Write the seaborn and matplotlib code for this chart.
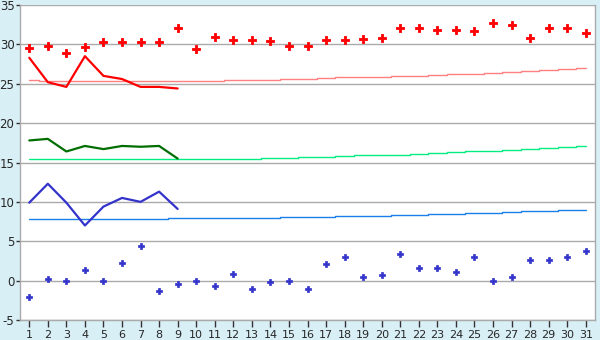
import numpy as np
import pandas as pd
import matplotlib
matplotlib.use("Agg")
import matplotlib.pyplot as plt
import seaborn as sns

days = list(range(1, 32))

# record max (red diamonds) and record min (blue diamonds)
rec_max = [29.5, 29.8, 28.9, 29.7, 30.3, 30.3, 30.3, 30.3, 32.1, 29.4,
           30.9, 30.5, 30.5, 30.4, 29.8, 29.8, 30.5, 30.5, 30.7, 30.8,
           32.1, 32.1, 31.8, 31.8, 31.7, 32.7, 32.4, 30.8, 32.1, 32.1, 31.4]
rec_min = [-2.1, 0.2, 0.0, 1.3, 0.0, 2.2, 4.4, -1.35, -0.45, 0.0,
           -0.7, 0.8, -1.0, -0.2, 0.0, -1.1, 2.1, 3.0, 0.4, 0.7,
           3.35, 1.6, 1.6, 1.1, 3.0, 0.0, 0.4, 2.6, 2.6, 3.0, 3.7]

# observed values (days 1-9)
obs_days = list(range(1, 10))
obs_max = [28.3, 25.2, 24.6, 28.5, 26.0, 25.6, 24.6, 24.6, 24.4]
obs_mean = [17.8, 18.0, 16.4, 17.1, 16.7, 17.1, 17.0, 17.1, 15.5]
obs_min = [9.9, 12.3, 9.9, 7.0, 9.4, 10.5, 10.0, 11.3, 9.1]

# normals
norm_max = [25.5, 25.4, 25.4, 25.4, 25.4, 25.4, 25.4, 25.4, 25.4, 25.4,
            25.4, 25.5, 25.5, 25.5, 25.6, 25.6, 25.7, 25.8, 25.8, 25.9,
            26.0, 26.0, 26.1, 26.2, 26.3, 26.4, 26.5, 26.6, 26.7, 26.9, 27.0]
norm_mean = [15.5, 15.4, 15.4, 15.4, 15.4, 15.4, 15.4, 15.4, 15.4, 15.4,
             15.5, 15.5, 15.5, 15.6, 15.6, 15.7, 15.7, 15.8, 15.9, 16.0,
             16.0, 16.1, 16.2, 16.3, 16.4, 16.5, 16.6, 16.7, 16.8, 17.0, 17.1]
norm_min = [7.8, 7.8, 7.8, 7.8, 7.8, 7.8, 7.8, 7.85, 7.9, 7.9,
            7.9, 7.95, 8.0, 8.0, 8.05, 8.1, 8.1, 8.15, 8.2, 8.25,
            8.3, 8.35, 8.4, 8.5, 8.55, 8.6, 8.7, 8.8, 8.85, 8.95, 9.0]

y_ticks = [-5, 0, 5, 10, 15, 20, 25, 30, 35]

df = pd.DataFrame({"day": days, "rec_max": rec_max, "rec_min": rec_min,
                   "norm_max": norm_max, "norm_mean": norm_mean, "norm_min": norm_min})
dfo = pd.DataFrame({"day": obs_days, "obs_max": obs_max, "obs_mean": obs_mean, "obs_min": obs_min})

sns.set_theme(style="white")
plt.rcParams["font.family"] = ["DejaVu Sans"]

bg = "#d9eff6"
fig = plt.figure(figsize=(6, 3.4), dpi=100, facecolor=bg)
ax = fig.add_axes([20/600, 20/340, 575/600, 315/340])
ax.set_facecolor("white")

for y in y_ticks:
    ax.axhline(y, color="#aaaaaa", lw=1.0, zorder=0)

sns.lineplot(data=df, x="day", y="norm_max", ax=ax, color="#ff8080", lw=1.0, drawstyle="steps-mid")
sns.lineplot(data=df, x="day", y="norm_mean", ax=ax, color="#00ee80", lw=1.0, drawstyle="steps-mid")
sns.lineplot(data=df, x="day", y="norm_min", ax=ax, color="#1a7fe8", lw=1.0, drawstyle="steps-mid")

sns.lineplot(data=dfo, x="day", y="obs_max", ax=ax, color="#ff0000", lw=1.6)
sns.lineplot(data=dfo, x="day", y="obs_mean", ax=ax, color="#006e00", lw=1.6)
sns.lineplot(data=dfo, x="day", y="obs_min", ax=ax, color="#3333cc", lw=1.6)

sns.scatterplot(data=df, x="day", y="rec_max", ax=ax, color="#ff0000", marker="P", s=30,
                linewidth=0.6, edgecolor="#ff0000")
sns.scatterplot(data=df, x="day", y="rec_min", ax=ax, color="#3333cc", marker="P", s=24,
                linewidth=0.5, edgecolor="#3333cc")

ax.set_xlim(0.5, 31.5)
ax.set_ylim(-5, 35)
ax.set_xticks(days)
ax.set_xticklabels([str(d) for d in days], fontsize=8)
ax.set_yticks(y_ticks)
ax.set_yticklabels([str(v) for v in y_ticks], fontsize=8.5)
ax.set_xlabel("")
ax.set_ylabel("")
ax.tick_params(axis="x", direction="out", length=5, width=1, color="#333333", pad=2, bottom=True)
ax.tick_params(axis="y", direction="out", length=3, width=1, color="#333333", pad=1, left=True)

for side in ["left", "bottom", "right"]:
    ax.spines[side].set_visible(True)
    ax.spines[side].set_color("#aaaaaa")
    ax.spines[side].set_linewidth(1.0)
ax.spines["top"].set_visible(False)

fig.savefig("out.png", dpi=100, facecolor=bg)
